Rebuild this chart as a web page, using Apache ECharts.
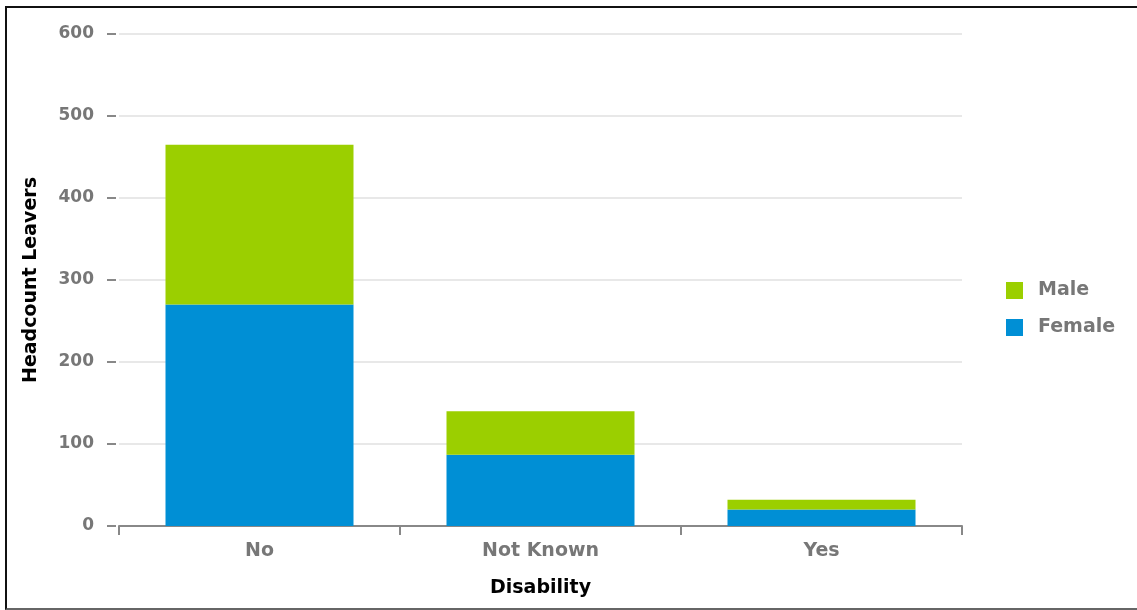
<!DOCTYPE html>
<html>
<head>
<meta charset="utf-8">
<script src="https://cdn.jsdelivr.net/npm/echarts@6/dist/echarts.min.js"></script>
<style>
html,body{margin:0;padding:0;background:#fff;}
#frame{position:absolute;left:5px;top:6px;width:1140px;height:604px;border-left:2px solid #111;border-top:2px solid #111;border-bottom:2px solid #666;box-sizing:border-box;}
#chart{position:absolute;left:0;top:0;width:1137px;height:610px;}
</style>
</head>
<body>
<div id="frame"></div>
<div id="chart"></div>
<script>
const categories = ['No', 'Not Known', 'Yes'];
const femaleValues = [270, 87, 20];
const maleValues = [195, 53, 12];
const yTicks = [0, 100, 200, 300, 400, 500, 600];

const FONT = '"DejaVu Sans", Verdana, sans-serif';
const chart = echarts.init(document.getElementById('chart'), null, {renderer: 'canvas'});
chart.setOption({
  animation: false,
  grid: {left: 119, right: 175, top: 34, bottom: 84},
  legend: {
    orient: 'vertical', left: 1006, top: 281, padding: 0,
    itemWidth: 17, itemHeight: 17, itemGap: 18, icon: 'rect',
    data: ['Male', 'Female'],
    textStyle: {color: '#777', fontWeight: 'bold', fontSize: 19, fontFamily: FONT, padding: [2, 0, 0, 10]}
  },
  xAxis: {
    type: 'category', data: categories,
    name: 'Disability', nameLocation: 'middle', nameGap: 53,
    nameTextStyle: {color: '#000', fontWeight: 'bold', fontSize: 19, fontFamily: FONT},
    axisLine: {lineStyle: {color: '#888', width: 2}},
    axisTick: {show: true, length: 9, lineStyle: {color: '#888', width: 2}},
    axisLabel: {margin: 16, color: '#777', fontWeight: 'bold', fontSize: 19, fontFamily: FONT}
  },
  yAxis: {
    type: 'value', min: yTicks[0], max: yTicks[yTicks.length - 1], interval: 100,
    offset: 3,
    name: 'Headcount Leavers', nameLocation: 'middle', nameGap: 75, nameRotate: 90,
    nameTextStyle: {color: '#000', fontWeight: 'bold', fontSize: 19, fontFamily: FONT},
    axisLine: {show: false},
    axisTick: {show: true, length: 9, lineStyle: {color: '#888', width: 2}},
    axisLabel: {margin: 22, color: '#777', fontWeight: 'bold', fontSize: 17, fontFamily: FONT},
    splitLine: {lineStyle: {color: '#e8e8e8', width: 2}}
  },
  series: [
    {name: 'Female', type: 'bar', stack: 'g', data: femaleValues, barWidth: 188, itemStyle: {color: '#008FD5'}},
    {name: 'Male', type: 'bar', stack: 'g', data: maleValues, barWidth: 188, itemStyle: {color: '#9BCF00'}}
  ]
});
</script>
</body>
</html>
